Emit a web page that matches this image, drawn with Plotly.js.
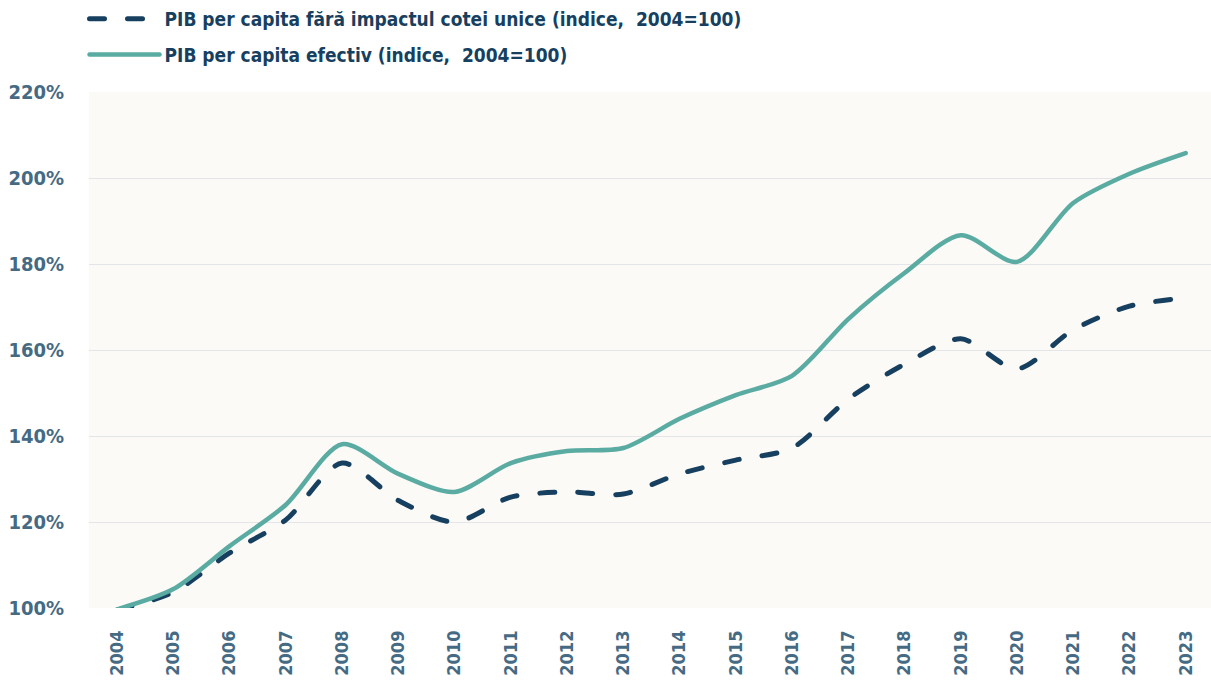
<!DOCTYPE html>
<html><head><meta charset="utf-8">
<script src="https://cdn.plot.ly/plotly-3.0.1.min.js"></script>
<style>html,body{margin:0;padding:0;background:#fff}#chart{width:1211px;height:680px}
.scatterlayer .js-line{stroke-linecap:round}
.legendlines path{stroke-linecap:round}
</style>
</head><body><div id="chart"></div>
<script>
const years = [2004,2005,2006,2007,2008,2009,2010,2011,2012,2013,2014,2015,2016,2017,2018,2019,2020,2021,2022,2023];
const fara = [99.5,103.7,112.8,120.5,133.7,125.0,120.0,125.8,127.0,126.5,131.2,134.4,137.2,148.6,156.7,162.6,155.6,164.7,170.2,172.1];
const efectiv = [99.7,104.4,114.4,124.0,138.1,131.2,127.0,133.7,136.5,137.2,144.0,149.5,154.0,167.2,177.9,186.7,180.5,194.2,201.0,205.8];
const names = ["PIB per capita fără impactul cotei unice (indice,  2004=100)", "PIB per capita efectiv (indice,  2004=100)"];
const yTicks = [100,120,140,160,180,200,220];

const fontFam = "DejaVu Sans Condensed, DejaVu Sans, sans-serif";
const traces = [
  {x: years, y: fara, name: names[0], legendgroup: 'a', type: 'scatter', mode: 'lines', cliponaxis: false,
   line: {color: '#173f5f', width: 5, dash: '15px,23px', shape: 'spline', smoothing: 0.8}},
  {x: years, y: efectiv, name: names[1], legendgroup: 'b', type: 'scatter', mode: 'lines', cliponaxis: false,
   line: {color: '#5aaba2', width: 4.5, shape: 'spline', smoothing: 0.8}}
];
const layout = {
  width: 1211, height: 680,
  margin: {l: 89, r: 0, t: 92, b: 72, autoexpand: false},
  paper_bgcolor: '#ffffff', plot_bgcolor: '#fbfaf6',
  showlegend: true,
  legend: {x: -0.004, xanchor: 'left', yref: 'container', y: 1.0, yanchor: 'top', orientation: 'v',
    font: {family: fontFam, size: 19, color: '#173f5f', weight: 'bold'}, tracegroupgap: 8, itemwidth: 70, bgcolor: 'rgba(0,0,0,0)'},
  xaxis: {type: 'linear', range: [2003.5, 2023.45], tickmode: 'array', tickvals: years, ticktext: years.map(String),
    tickangle: -90, showgrid: false, zeroline: false, showline: false, ticks: '', ticklabelstandoff: 18,
    tickfont: {family: fontFam, size: 18, color: '#456a84', weight: 'bold'}},
  yaxis: {range: [100, 220], tickmode: 'array', tickvals: yTicks, ticktext: yTicks.map(v => v + '%'),
    showgrid: true, gridcolor: '#e3e5e8', gridwidth: 1, zeroline: false, showline: false, ticks: '',
    ticklabelstandoff: 24,
    tickfont: {family: fontFam, size: 20, color: '#456a84', weight: 'bold'}}
};
Plotly.newPlot('chart', traces, layout, {displayModeBar: false, staticPlot: true});
</script></body></html>
